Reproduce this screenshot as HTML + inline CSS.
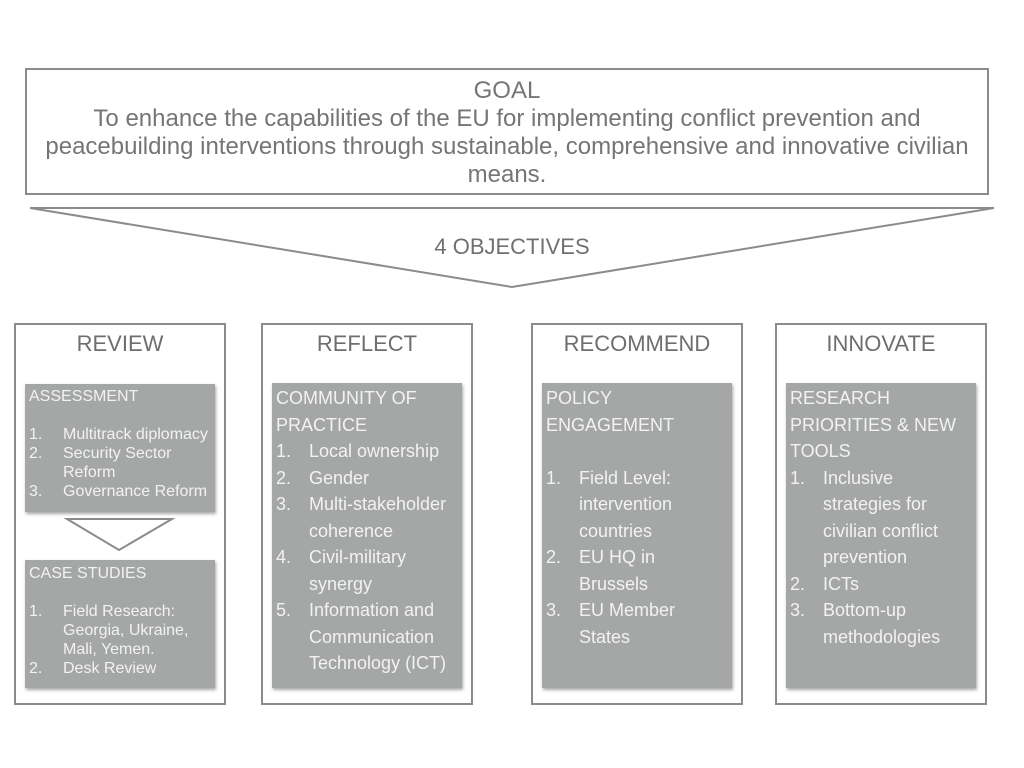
<!DOCTYPE html>
<html><head><meta charset="utf-8"><style>
body{margin:0;width:1024px;height:768px;background:#fff;position:relative;overflow:hidden;font-family:"Liberation Sans",sans-serif;}
.a{position:absolute;box-sizing:border-box;}
.ob{border:2px solid #8a8b8c;}
.h{color:#6e6e6e;font-size:22px;text-align:center;width:100%;top:6px;}
.g{background:#a5a7a6;box-shadow:1px 2px 3px rgba(0,0,0,0.35);color:#f2f2f2;}
.l{white-space:nowrap;}
.n{display:inline-block;width:33px;}
.s .n{width:34px;}
</style></head><body>
<div class="a ob" style="left:25px;top:68px;width:964px;height:127px;"></div>
<div class="a" style="left:0px;top:77px;width:1014px;text-align:center;color:#757575;font-size:24px;line-height:28px;">
<div class="l">GOAL</div>
<div class="l">To enhance the capabilities of the EU for implementing conflict prevention and</div>
<div class="l">peacebuilding interventions through sustainable, comprehensive and innovative civilian</div>
<div class="l">means.</div>
</div>
<svg class="a" style="left:0;top:0" width="1024" height="768">
<polyline points="30,208 994,208 512,287 30,208" fill="none" stroke="#8a8b8c" stroke-width="2"/>
<polygon points="67,519 172,519 119,550" fill="#fff" stroke="#8a8b8c" stroke-width="2"/>
</svg>
<div class="a" style="left:0;width:1024px;top:234px;text-align:center;color:#707070;font-size:22px;">4 OBJECTIVES</div>

<div class="a ob" style="left:14px;top:323px;width:212px;height:382px;"><div class="a h" style="top:6px">REVIEW</div></div>
<div class="a ob" style="left:261px;top:323px;width:212px;height:382px;"><div class="a h" style="top:6px">REFLECT</div></div>
<div class="a ob" style="left:531px;top:323px;width:212px;height:382px;"><div class="a h" style="top:6px">RECOMMEND</div></div>
<div class="a ob" style="left:775px;top:323px;width:212px;height:382px;"><div class="a h" style="top:6px">INNOVATE</div></div>

<div class="a g s" style="left:25px;top:384px;width:190px;height:128px;padding:3px 0 0 4px;font-size:16px;line-height:19px;">
<div class="l">ASSESSMENT</div><div>&nbsp;</div>
<div class="l"><span class="n">1.</span>Multitrack diplomacy</div>
<div class="l"><span class="n">2.</span>Security Sector</div>
<div class="l"><span class="n"></span>Reform</div>
<div class="l"><span class="n">3.</span>Governance Reform</div>
</div>
<div class="a g s" style="left:25px;top:560px;width:190px;height:128px;padding:4px 0 0 4px;font-size:16px;line-height:19px;">
<div class="l">CASE STUDIES</div><div>&nbsp;</div>
<div class="l"><span class="n">1.</span>Field Research:</div>
<div class="l"><span class="n"></span>Georgia, Ukraine,</div>
<div class="l"><span class="n"></span>Mali, Yemen.</div>
<div class="l"><span class="n">2.</span>Desk Review</div>
</div>

<div class="a g" style="left:272px;top:383px;width:190px;height:305px;padding:2px 0 0 4px;font-size:18px;line-height:26.5px;">
<div class="l">COMMUNITY OF</div><div class="l">PRACTICE</div>
<div class="l"><span class="n">1.</span>Local ownership</div>
<div class="l"><span class="n">2.</span>Gender</div>
<div class="l"><span class="n">3.</span>Multi-stakeholder</div>
<div class="l"><span class="n"></span>coherence</div>
<div class="l"><span class="n">4.</span>Civil-military</div>
<div class="l"><span class="n"></span>synergy</div>
<div class="l"><span class="n">5.</span>Information and</div>
<div class="l"><span class="n"></span>Communication</div>
<div class="l"><span class="n"></span>Technology (ICT)</div>
</div>

<div class="a g" style="left:542px;top:383px;width:190px;height:305px;padding:2px 0 0 4px;font-size:18px;line-height:26.5px;">
<div class="l">POLICY</div><div class="l">ENGAGEMENT</div><div>&nbsp;</div>
<div class="l"><span class="n">1.</span>Field Level:</div>
<div class="l"><span class="n"></span>intervention</div>
<div class="l"><span class="n"></span>countries</div>
<div class="l"><span class="n">2.</span>EU HQ in</div>
<div class="l"><span class="n"></span>Brussels</div>
<div class="l"><span class="n">3.</span>EU Member</div>
<div class="l"><span class="n"></span>States</div>
</div>

<div class="a g" style="left:786px;top:383px;width:190px;height:305px;padding:2px 0 0 4px;font-size:18px;line-height:26.5px;">
<div class="l">RESEARCH</div><div class="l">PRIORITIES &amp; NEW</div><div class="l">TOOLS</div>
<div class="l"><span class="n">1.</span>Inclusive</div>
<div class="l"><span class="n"></span>strategies for</div>
<div class="l"><span class="n"></span>civilian conflict</div>
<div class="l"><span class="n"></span>prevention</div>
<div class="l"><span class="n">2.</span>ICTs</div>
<div class="l"><span class="n">3.</span>Bottom-up</div>
<div class="l"><span class="n"></span>methodologies</div>
</div>
</body></html>
